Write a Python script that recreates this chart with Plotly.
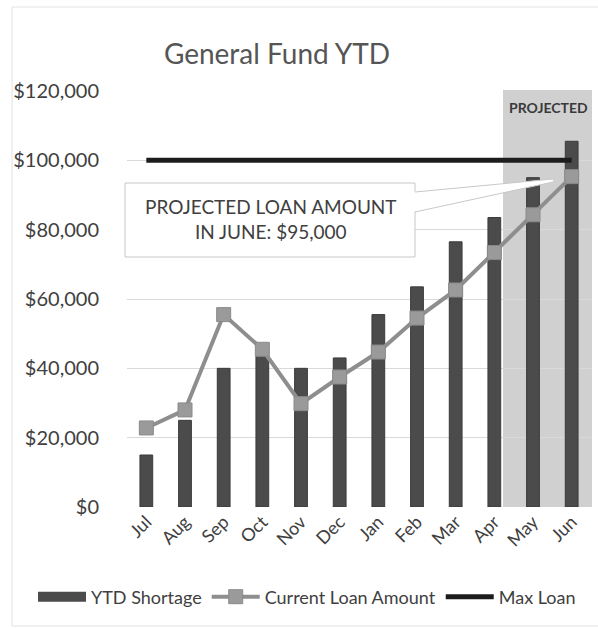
import plotly.graph_objects as go

months = ["Jul", "Aug", "Sep", "Oct", "Nov", "Dec", "Jan", "Feb", "Mar", "Apr", "May", "Jun"]
ytd_shortage = [15000, 25000, 40000, 43500, 40000, 43000, 55500, 63500, 76500, 83500, 95000, 105500]
current_loan = [22800, 28000, 55500, 45500, 29800, 37500, 44700, 54500, 62600, 73400, 84300, 95300]
max_loan = [100000, 100000, 100000, 100000, 100000, 100000, 100000, 100000, 100000, 100000, 100000, 100000]
y_ticks = [0, 20000, 40000, 60000, 80000, 100000, 120000]
y_tick_text = ["$0", "$20,000", "$40,000", "$60,000", "$80,000", "$100,000", "$120,000"]

W, H = 598, 628
L, R, T, B = 127, 591, 91, 507  # plot area in pixels


def px(xp):
    return (xp - L) / (R - L)


def py(yp):
    return (B - yp) / (B - T)


FONT = "Lato"
TXT = "#404040"

fig = go.Figure()

fig.add_trace(go.Bar(
    x=months, y=ytd_shortage, name="YTD Shortage",
    marker=dict(color="#4b4b4b", line=dict(color="#3a3a3a", width=1)),
    showlegend=False,
))
# legend swatch for the bars (thick line like the original legend)
fig.add_trace(go.Scatter(
    x=[None], y=[None], mode="lines", name="YTD Shortage",
    line=dict(color="#4b4b4b", width=10),
))
fig.add_trace(go.Scatter(
    x=months, y=current_loan, name="Current Loan Amount", mode="lines+markers",
    line=dict(color="#8e8e8e", width=4),
    marker=dict(symbol="square", size=14, color="#9a9a9a", line=dict(color="#8a8a8a", width=1)),
))
fig.add_trace(go.Scatter(
    x=months, y=max_loan, name="Max Loan", mode="lines",
    line=dict(color="#1c1c1c", width=5),
))

shapes = [
    # outer chart frame
    dict(type="rect", xref="paper", yref="paper",
         x0=px(12), x1=px(610), y0=py(626), y1=py(7),
         line=dict(color="#e2e2e2", width=1), fillcolor="rgba(0,0,0,0)", layer="below"),
    # projected shading
    dict(type="rect", xref="paper", yref="paper",
         x0=px(503), x1=px(592), y0=0, y1=py(90),
         line=dict(width=0), fillcolor="#d0d0d0", layer="below"),
    # callout box
    dict(type="rect", xref="paper", yref="paper",
         x0=px(125), x1=px(415), y0=py(257), y1=py(183),
         line=dict(color="#c8c8c8", width=1), fillcolor="white", layer="above"),
    # callout wedge (fill)
    dict(type="path", xref="paper", yref="paper",
         path=f"M {px(412)},{py(192)} L {px(553)},{py(179)} L {px(553)},{py(182)} L {px(412)},{py(212)} Z",
         line=dict(width=0), fillcolor="white", layer="above"),
    # wedge edges
    dict(type="line", xref="paper", yref="paper",
         x0=px(415), y0=py(192), x1=px(553), y1=py(179),
         line=dict(color="#c8c8c8", width=1), layer="above"),
    dict(type="line", xref="paper", yref="paper",
         x0=px(415), y0=py(212), x1=px(553), y1=py(182),
         line=dict(color="#c8c8c8", width=1), layer="above"),
]

annotations = [
    dict(xref="paper", yref="paper", x=px(271), y=py(219),
         text="PROJECTED LOAN AMOUNT<br>IN JUNE: $95,000", showarrow=False,
         font=dict(family=FONT, size=19, color=TXT), align="center",
         xanchor="center", yanchor="middle"),
    dict(xref="paper", yref="paper", x=px(548), y=py(108),
         text="<b>PROJECTED</b>", showarrow=False,
         font=dict(family=FONT, size=14, color="#3a3a3a"),
         xanchor="center", yanchor="middle"),
]

fig.update_layout(
    width=W, height=H,
    margin=dict(l=L, r=W - R, t=T, b=H - B, autoexpand=False),
    paper_bgcolor="white", plot_bgcolor="white",
    title=dict(text="General Fund YTD", x=277 / W, xanchor="center",
               y=1 - 54 / H, yanchor="middle",
               font=dict(family=FONT, size=28, color="#555555")),
    font=dict(family=FONT, color=TXT),
    bargap=0.67,
    showlegend=True,
    legend=dict(orientation="h", x=px(33), xanchor="left", y=py(597), yanchor="middle",
                font=dict(family=FONT, size=18, color=TXT), itemwidth=48,
                bgcolor="rgba(0,0,0,0)", tracegroupgap=0),
    shapes=shapes,
    annotations=annotations,
)
fig.update_xaxes(type="category", range=[-0.5, 11.5], tickangle=-45,
                 tickfont=dict(family=FONT, size=18, color=TXT),
                 showgrid=False, showline=False, ticks="", zeroline=False)
fig.update_yaxes(range=[0, 120000], tickvals=y_ticks, ticktext=y_tick_text,
                 tickfont=dict(family=FONT, size=20, color=TXT),
                 showgrid=True, gridcolor="#d9d9d9", gridwidth=1, zeroline=False,
                 showline=False, ticks="", ticklabelstandoff=27)

fig.write_html("out.html", config={"displayModeBar": False},
               post_script="document.body.style.margin='0';")
